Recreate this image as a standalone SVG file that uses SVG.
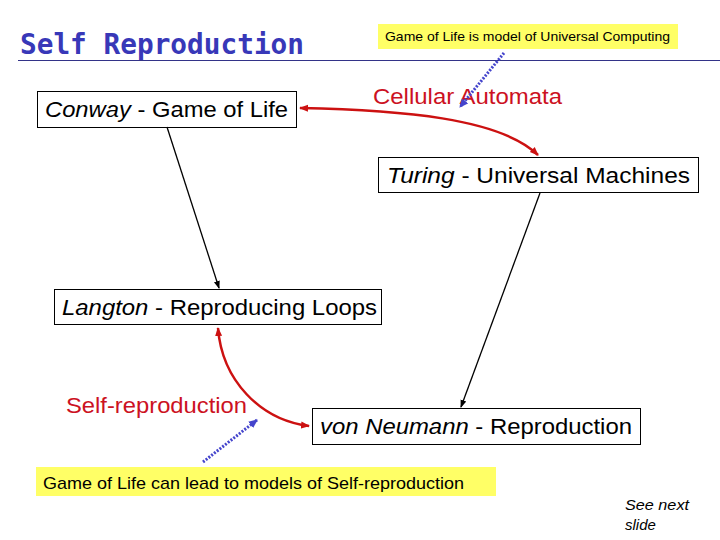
<svg xmlns="http://www.w3.org/2000/svg" width="720" height="540" viewBox="0 0 720 540">
<style>
.box{fill:#fff;stroke:#000;stroke-width:1}
.t{font-family:"Liberation Sans",Arial,sans-serif;font-size:22px;fill:#000}
.red{font-family:"Liberation Sans",Arial,sans-serif;font-size:22px;fill:#cc1122}
.note{fill:#ffff66}
.blk{stroke:#000;stroke-width:1.3;fill:none;marker-end:url(#ab)}
.rc{stroke:#cc1111;stroke-width:2.5;fill:none;marker-start:url(#arS);marker-end:url(#ar)}
.bd{stroke:#4444cc;stroke-width:3;stroke-dasharray:2 1.5;fill:none;marker-end:url(#abl)}
</style>
<defs>
<marker id="ab" markerWidth="8" markerHeight="8" refX="7" refY="4" orient="auto" markerUnits="userSpaceOnUse"><path d="M0,1 L8,4 L0,7 z" fill="#000"/></marker>
<marker id="ar" markerWidth="9" markerHeight="9" refX="8" refY="4.5" orient="auto" markerUnits="userSpaceOnUse"><path d="M0,1 L9,4.5 L0,8 z" fill="#cc1111"/></marker>
<marker id="arS" markerWidth="9" markerHeight="9" refX="1" refY="4.5" orient="auto" markerUnits="userSpaceOnUse"><path d="M9,1 L0,4.5 L9,8 z" fill="#cc1111"/></marker>
<marker id="abl" markerWidth="10" markerHeight="10" refX="8" refY="5" orient="auto" markerUnits="userSpaceOnUse"><path d="M0,1 L9,5 L0,9 z" fill="#4444cc"/></marker>
</defs>
<g id="title">
<text x="20" y="54" font-family="'DejaVu Sans Mono','Liberation Mono',monospace" font-size="28" font-weight="bold" fill="#3838b8" textLength="284" lengthAdjust="spacingAndGlyphs">Self Reproduction</text>
<line x1="18" y1="60.5" x2="720" y2="60.5" stroke="#333388" stroke-width="1.2"/>
</g>
<g id="note-top">
<rect class="note" x="378" y="24" width="300" height="25"/>
<text x="385" y="41" font-family="'Liberation Sans',Arial,sans-serif" font-size="13" textLength="285" lengthAdjust="spacingAndGlyphs">Game of Life is model of Universal Computing</text>
</g>
<g id="conway">
<rect class="box" x="37.5" y="91.5" width="259" height="36"/>
<text class="t" x="45" y="117" textLength="243" lengthAdjust="spacingAndGlyphs"><tspan font-style="italic">Conway</tspan> - Game of Life</text>
</g>
<g id="ca-label"><text class="red" x="373" y="104" textLength="189" lengthAdjust="spacingAndGlyphs">Cellular Automata</text></g>
<g id="turing">
<rect class="box" x="378.5" y="157.5" width="320" height="35"/>
<text class="t" x="387" y="183" textLength="303" lengthAdjust="spacingAndGlyphs"><tspan font-style="italic">Turing</tspan> - Universal  Machines</text>
</g>
<g id="langton">
<rect class="box" x="54.5" y="289.5" width="327" height="35"/>
<text class="t" x="62" y="315" textLength="315" lengthAdjust="spacingAndGlyphs"><tspan font-style="italic">Langton</tspan> - Reproducing Loops</text>
</g>
<g id="sr-label"><text class="red" x="66" y="413" textLength="181" lengthAdjust="spacingAndGlyphs">Self-reproduction</text></g>
<g id="neumann">
<rect class="box" x="312.5" y="408.5" width="328" height="36"/>
<text class="t" x="320" y="434" textLength="312" lengthAdjust="spacingAndGlyphs"><tspan font-style="italic">von Neumann</tspan> - Reproduction</text>
</g>
<g id="note-bottom">
<rect class="note" x="36" y="467" width="460" height="29"/>
<text x="43" y="489" font-family="'Liberation Sans',Arial,sans-serif" font-size="17" textLength="421" lengthAdjust="spacingAndGlyphs">Game of Life can lead to models of Self-reproduction</text>
</g>
<g id="see-next">
<text font-family="'Liberation Sans',Arial,sans-serif" font-size="15" font-style="italic"><tspan x="625" y="510" textLength="64" lengthAdjust="spacingAndGlyphs">See next</tspan><tspan x="625" y="530">slide</tspan></text>
</g>
<g id="connectors">
<path class="rc" d="M300,108 C400,110 500,118 538,155"/>
<path class="rc" d="M218,328 C222,380 260,420 309,426"/>
<line class="blk" x1="167" y1="127" x2="219" y2="288"/>
<line class="blk" x1="540" y1="193" x2="461" y2="407"/>
<line class="bd" x1="504" y1="53" x2="460" y2="107"/>
<line class="bd" x1="203" y1="462" x2="257" y2="420"/>
</g>
</svg>
